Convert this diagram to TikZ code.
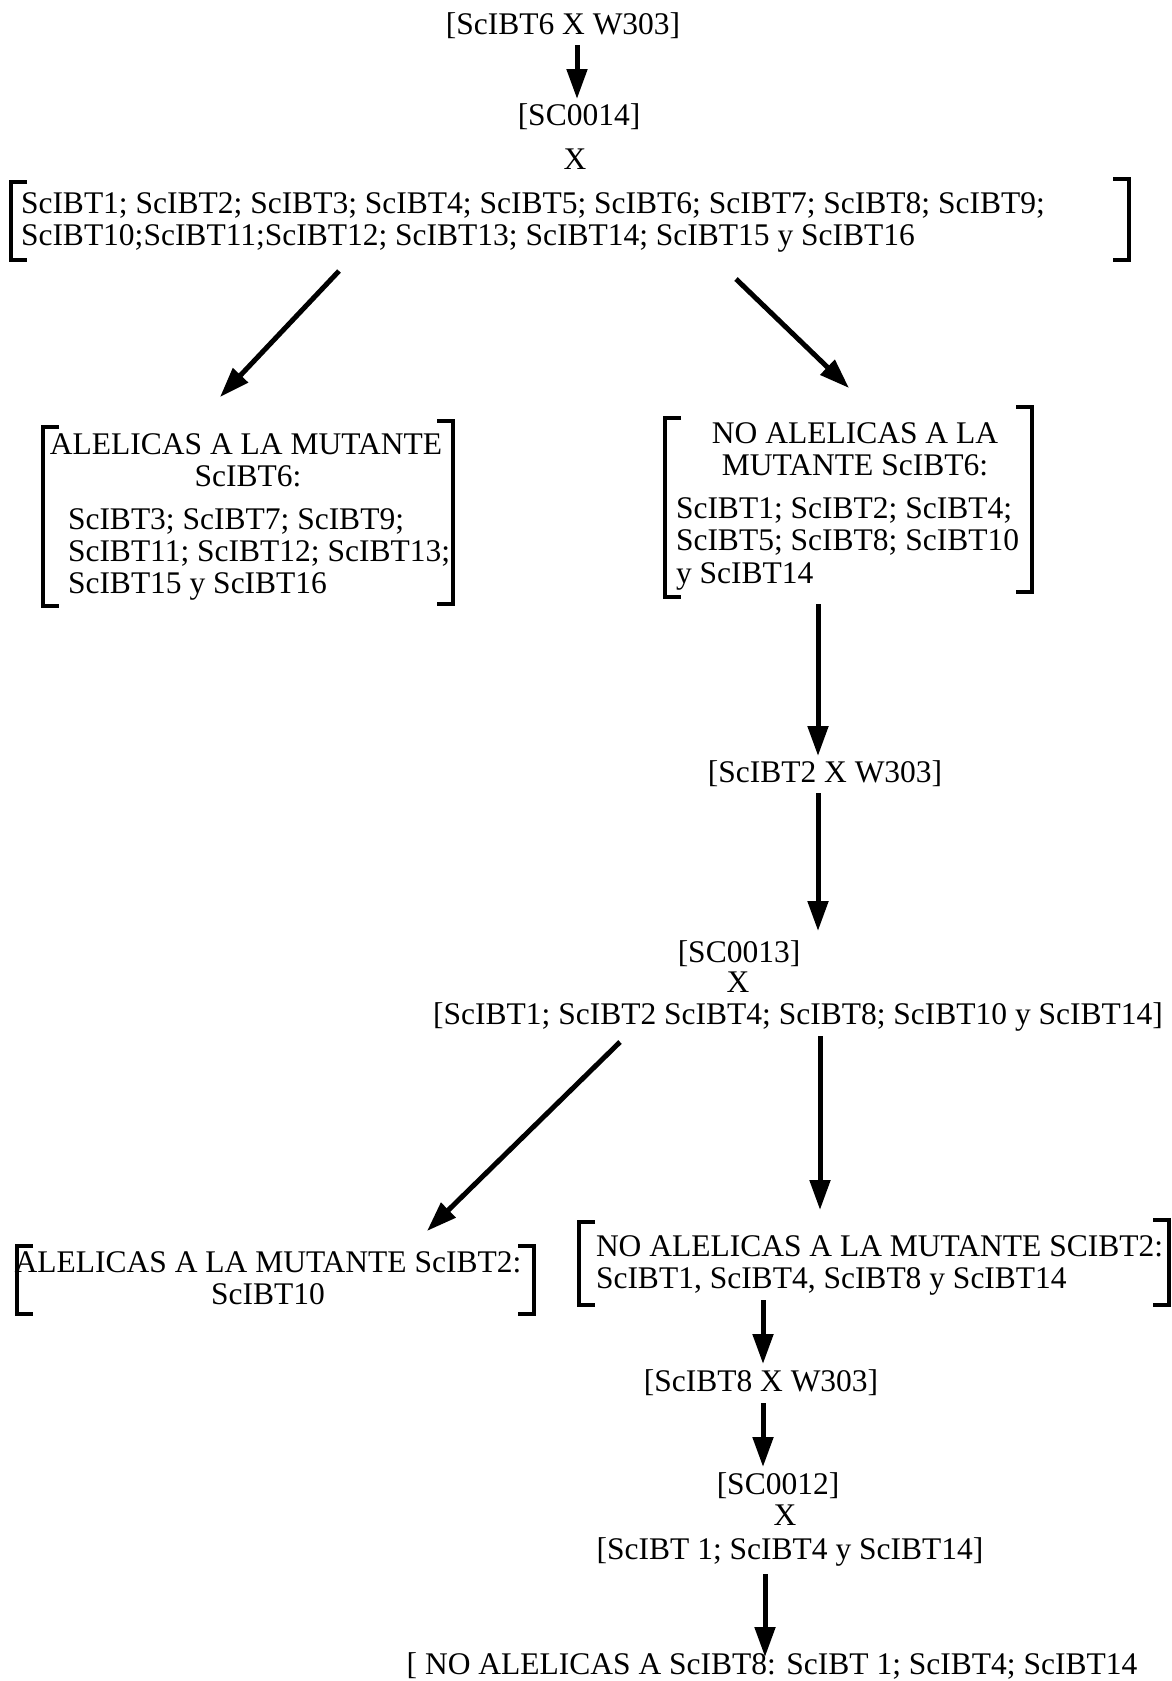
\documentclass[tikz,border=0pt]{standalone}
\usepackage{fontspec}
\setmainfont{Liberation Serif}
\usetikzlibrary{arrows.meta}
\begin{document}
\begin{tikzpicture}[x=0.5pt,y=-0.5pt,
  txt/.style={inner sep=0pt, outer sep=0pt, text height=0.75em, text depth=0.25em, font=\fontsize{15.75}{16}\selectfont},
  ctr/.style={txt, anchor=base},
  lft/.style={txt, anchor=base west},
  arr/.style={line width=2.5pt, -{Triangle[length=15pt,width=10pt]}},
  brk/.style={line width=1.6pt}]
\useasboundingbox (0,0) rectangle (1172,1681);

% ---- top ----
\node[ctr] (t1) at (563,34) {[ScIBT6 X W303]};
\node[ctr] (sc14) at (579,125) {[SC0014]};
\node[ctr] (x1) at (575,169) {X};
\node[lft] (big1) at (21,213) {ScIBT1; ScIBT2; ScIBT3; ScIBT4; ScIBT5; ScIBT6; ScIBT7; ScIBT8; ScIBT9;};
\node[lft] (big2) at (21,245) {ScIBT10;ScIBT11;ScIBT12; ScIBT13; ScIBT14; ScIBT15 y ScIBT16};
\draw[brk] (27,182) -- (11,182) -- (11,260) -- (27,260);
\draw[brk] (1113,179) -- (1129,179) -- (1129,260) -- (1113,260);

% ---- left box ScIBT6 ----
\node[ctr] (a6a) at (246,454) {ALELICAS A LA MUTANTE};
\node[ctr] (a6b) at (248,486) {ScIBT6:};
\node[lft] (a6c) at (68,529) {ScIBT3; ScIBT7; ScIBT9;};
\node[lft] (a6d) at (68,561) {ScIBT11; ScIBT12; ScIBT13;};
\node[lft] (a6e) at (68,593) {ScIBT15 y ScIBT16};
\draw[brk] (59,427) -- (43,427) -- (43,606) -- (59,606);
\draw[brk] (437,421) -- (453,421) -- (453,604) -- (437,604);

% ---- right box ScIBT6 ----
\node[ctr] (n6a) at (855,443) {NO ALELICAS A LA};
\node[ctr] (n6b) at (855,475) {MUTANTE ScIBT6:};
\node[lft] (n6c) at (676,518) {ScIBT1; ScIBT2; ScIBT4;};
\node[lft] (n6d) at (676,550) {ScIBT5; ScIBT8; ScIBT10};
\node[lft] (n6e) at (676,583) {y ScIBT14};
\draw[brk] (681,418) -- (665,418) -- (665,597) -- (681,597);
\draw[brk] (1016,407) -- (1032,407) -- (1032,592) -- (1016,592);

% ---- middle ----
\node[ctr] (t2) at (825,782) {[ScIBT2 X W303]};
\node[ctr] (sc13) at (739,962) {[SC0013]};
\node[ctr] (x2) at (738,992) {X};
\node[ctr] (l2) at (798,1024) {[ScIBT1; ScIBT2 ScIBT4; ScIBT8; ScIBT10 y ScIBT14]};

% ---- left box ScIBT2 ----
\node[ctr] (a2a) at (268,1272) {ALELICAS A LA MUTANTE ScIBT2:};
\node[ctr] (a2b) at (268,1304) {ScIBT10};
\draw[brk] (33,1246) -- (17,1246) -- (17,1314) -- (33,1314);
\draw[brk] (518,1246) -- (534,1246) -- (534,1314) -- (518,1314);

% ---- right box ScIBT2 ----
\node[lft] (n2a) at (596,1256) {NO ALELICAS A LA MUTANTE SCIBT2:};
\node[lft] (n2b) at (596,1288) {ScIBT1, ScIBT4, ScIBT8 y ScIBT14};
\draw[brk] (595,1222) -- (579,1222) -- (579,1305) -- (595,1305);
\draw[brk] (1153,1220) -- (1169,1220) -- (1169,1305) -- (1153,1305);

% ---- bottom ----
\node[ctr] (t3) at (761,1391) {[ScIBT8 X W303]};
\node[ctr] (sc12) at (778,1494) {[SC0012]};
\node[ctr] (x3) at (785,1525) {X};
\node[ctr] (l3) at (790,1559) {[ScIBT 1; ScIBT4 y ScIBT14]};
\node[ctr] (fin) at (772,1674) {[ NO ALELICAS A ScIBT8: ScIBT 1; ScIBT4; ScIBT14};

% ---- connector end points ----
\coordinate (a1s) at (577,45);   \coordinate (a1e) at (577,99);
\coordinate (d1s) at (339,271);  \coordinate (d1e) at (220,397);
\coordinate (d2s) at (736,279);  \coordinate (d2e) at (849,388);
\coordinate (a3s) at (818,604);  \coordinate (a3e) at (818,756);
\coordinate (a4s) at (818,793);  \coordinate (a4e) at (818,931);
\coordinate (d3s) at (620,1042); \coordinate (d3e) at (427,1231);
\coordinate (a5s) at (820,1036); \coordinate (a5e) at (820,1210);
\coordinate (a6s) at (763,1300); \coordinate (a6e) at (763,1364);
\coordinate (a7s) at (763,1403); \coordinate (a7e) at (763,1467);
\coordinate (a8s) at (765,1574); \coordinate (a8e) at (765,1657);

\draw[arr] (a1s) -- (a1e);
\draw[arr] (d1s) -- (d1e);
\draw[arr] (d2s) -- (d2e);
\draw[arr] (a3s) -- (a3e);
\draw[arr] (a4s) -- (a4e);
\draw[arr] (d3s) -- (d3e);
\draw[arr] (a5s) -- (a5e);
\draw[arr] (a6s) -- (a6e);
\draw[arr] (a7s) -- (a7e);
\draw[arr] (a8s) -- (a8e);
\end{tikzpicture}
\end{document}
